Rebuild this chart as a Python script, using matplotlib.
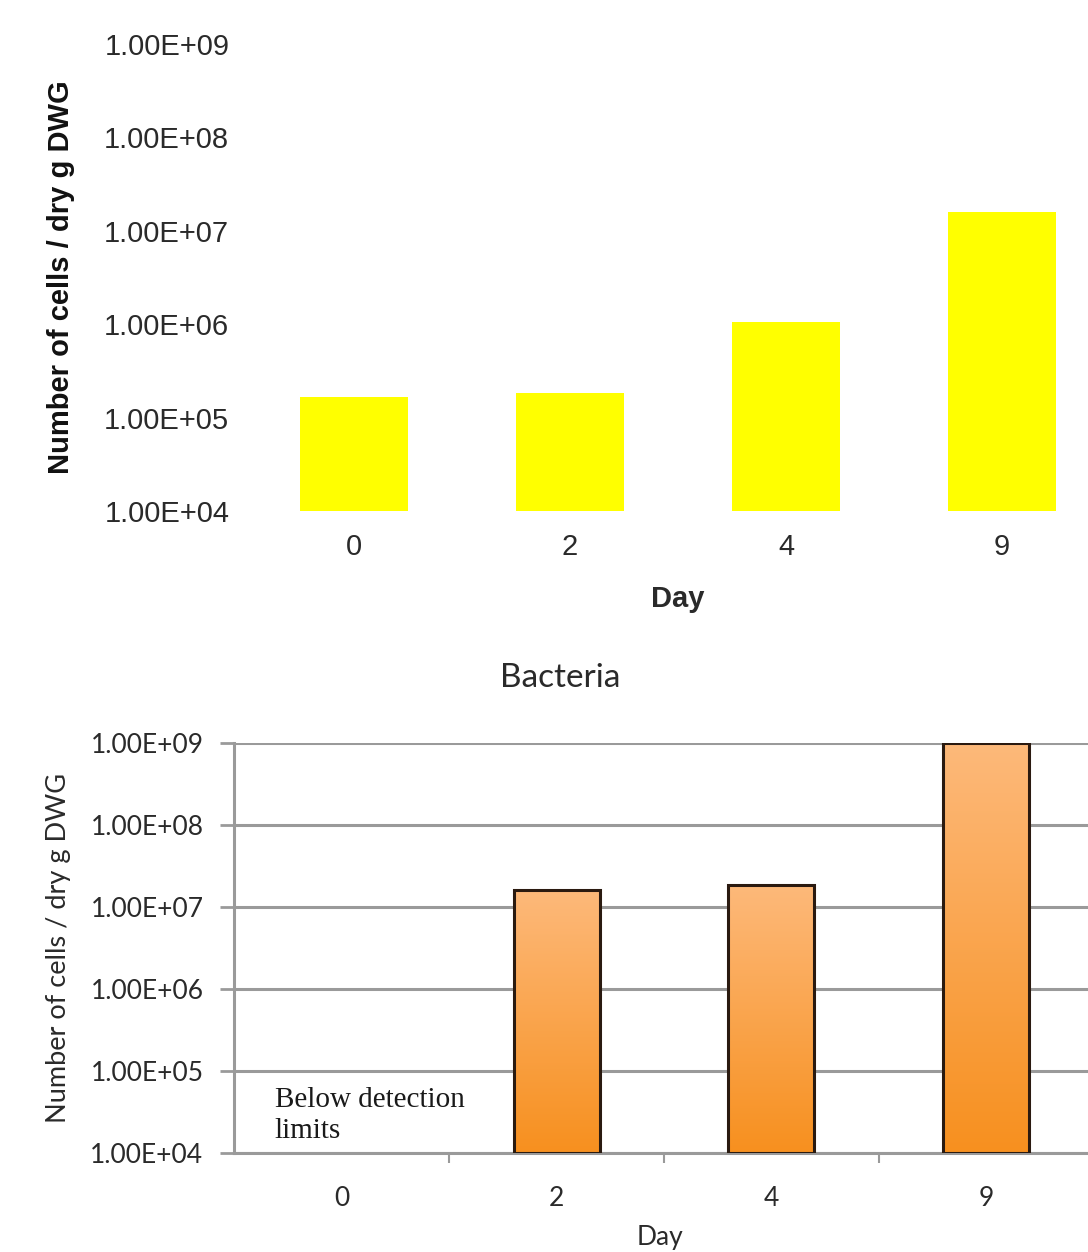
import matplotlib.pyplot as plt
import matplotlib.ticker as mticker
from matplotlib.colors import LinearSegmentedColormap
import numpy as np

# values
days = ["0", "2", "4", "9"]
top_cells = [1.65e5, 1.85e5, 1.05e6, 1.6e7]
bacteria_cells = [np.nan, 1.6e7, 1.85e7, 1.0e9]
ytick_vals = [1e4, 1e5, 1e6, 1e7, 1e8, 1e9]
ytick_text = ["1.00E+04", "1.00E+05", "1.00E+06", "1.00E+07", "1.00E+08", "1.00E+09"]

W, H = 1088, 1252
fig = plt.figure(figsize=(W / 100, H / 100), dpi=100)

x = np.arange(len(days))
txt = "#2a2a2a"

# ---- top panel (plain yellow bars, no axis lines)
ax1 = fig.add_axes([246 / W, 1 - 511 / H, 864 / W, 467 / H])
ax1.bar(x, np.array(top_cells) - 1e4, bottom=1e4, width=0.5, color="#FFFF00")
ax1.set_yscale("log")
ax1.set_ylim(1e4, 1e9)
ax1.set_xlim(-0.5, 3.5)
ax1.set_yticks(ytick_vals)
ax1.set_yticklabels(ytick_text)
ax1.yaxis.set_minor_locator(mticker.NullLocator())
ax1.set_xticks(x)
ax1.set_xticklabels(days)
for s in ax1.spines.values():
    s.set_visible(False)
ax1.tick_params(axis="both", length=0, labelsize=21, labelcolor=txt)
ax1.tick_params(axis="y", pad=12)
ax1.tick_params(axis="x", pad=16)
for lab in ax1.get_xticklabels() + ax1.get_yticklabels():
    lab.set_family("Liberation Sans")
ax1.set_xlabel("Day", fontsize=21, fontweight="bold", family="Liberation Sans",
               color=txt)
ax1.xaxis.set_label_coords(0.5, -0.158)
ax1.set_ylabel("Number of cells / dry g DWG", fontsize=21, fontweight="bold",
               family="Liberation Sans", color="#111111")
ax1.yaxis.set_label_coords(-0.198, 0.5)

# ---- bottom panel (Bacteria)
ax2 = fig.add_axes([234 / W, 1 - 1153 / H, 860 / W, 410 / H])
ax2.set_yscale("log")
ax2.set_ylim(1e4, 1e9)
ax2.set_xlim(-0.5, 3.5)
ax2.set_yticks(ytick_vals)
ax2.set_yticklabels(ytick_text)
ax2.yaxis.set_minor_locator(mticker.NullLocator())
ax2.grid(axis="y", color="#9a9a9a", linewidth=2.2)
ax2.set_axisbelow(True)
for side in ["top", "right"]:
    ax2.spines[side].set_visible(False)
for side in ["left", "bottom"]:
    ax2.spines[side].set_color("#9a9a9a")
    ax2.spines[side].set_linewidth(2.2)

# gradient orange bars with dark outline (gradient linear on screen)
grad = np.linspace(0, 1, 256).reshape(-1, 1)
cmap = LinearSegmentedColormap.from_list("org", ["#F7901F", "#FDB97A"])
bars = ax2.bar(x, np.array(bacteria_cells) - 1e4, bottom=1e4, width=0.4,
               facecolor="none", edgecolor="#2a1a10", linewidth=2.2, zorder=3)
to_axes = ax2.transData + ax2.transAxes.inverted()
for xi, val, b in zip(x, bacteria_cells, bars):
    if np.isnan(val):
        continue
    y_top = to_axes.transform((xi, val))[1]
    im = ax2.imshow(grad, cmap=cmap, aspect="auto", origin="lower",
                    extent=(xi - 0.2, xi + 0.2, 0, y_top),
                    transform=ax2.get_xaxis_transform(), zorder=2)
    im.set_clip_path(b)
ax2.set_xlim(-0.5, 3.5)
ax2.set_ylim(1e4, 1e9)

ax2.set_xticks(x)
ax2.set_xticklabels(days)
ax2.set_xticks(x[:-1] + 0.5, minor=True)
ax2.tick_params(axis="x", which="major", length=0, pad=24)
ax2.tick_params(axis="x", which="minor", length=7, width=1.5, color="#9a9a9a")
ax2.tick_params(axis="y", length=10, width=2, color="#9a9a9a", pad=12)
ax2.tick_params(axis="both", labelsize=19, labelcolor=txt)
for lab in ax2.get_xticklabels() + ax2.get_yticklabels():
    lab.set_family("Lato")
ax2.set_xlabel("Day", fontsize=19, family="Lato", color=txt)
ax2.xaxis.set_label_coords(0.495, -0.176)
ax2.set_ylabel("Number of cells / dry g DWG", fontsize=19.5, family="Lato",
               color=txt)
ax2.yaxis.set_label_coords(-0.19, 0.5)
ax2.text(-0.31, 2.85e4, "Below detection\nlimits", fontsize=21,
         family="Liberation Serif", ha="left", va="center", linespacing=1.25,
         color="#1a1a1a")
fig.text(560 / W, 1 - 678 / H, "Bacteria", fontsize=24, family="Lato",
         ha="center", va="center", color=txt)

fig.savefig("out.png", dpi=100)
